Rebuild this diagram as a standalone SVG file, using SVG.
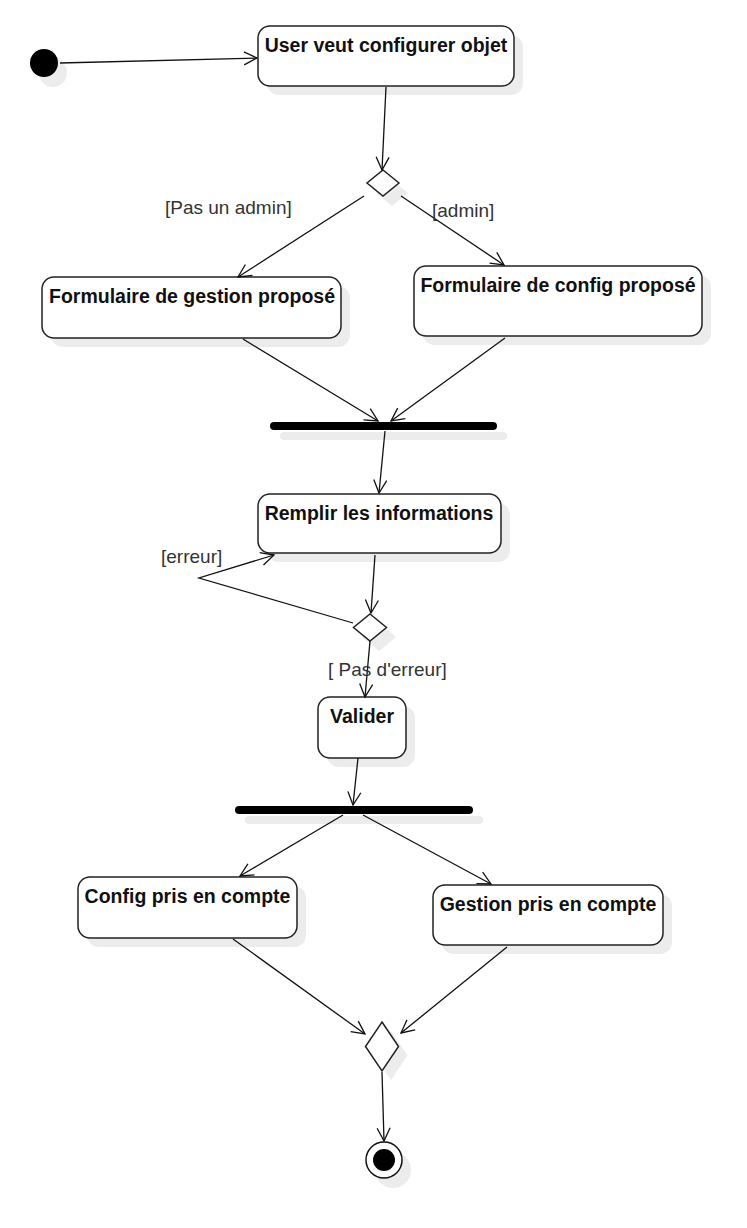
<svg xmlns="http://www.w3.org/2000/svg" width="747" height="1228" viewBox="0 0 747 1228">
<style>
.sh{fill:#ececec;stroke:none}
.nd{fill:#fff;stroke:#222;stroke-width:1.5}
.t{font-family:"Liberation Sans",Arial,sans-serif;font-size:19.5px;font-weight:bold;fill:#111;text-anchor:middle}
.lb{font-family:"Liberation Sans",Arial,sans-serif;font-size:19px;fill:#333}
.c{fill:none;stroke:#111;stroke-width:1.3}
</style>
<defs>
<marker id="arr" viewBox="-15 -8 17 16" refX="0" refY="0" markerWidth="17" markerHeight="16" orient="auto" markerUnits="userSpaceOnUse">
<path d="M-13,-6.5 L0,0 L-13,6.5" fill="none" stroke="#111" stroke-width="1.3"/>
</marker>
</defs>
<rect width="747" height="1228" fill="#fff"/>

<g id="initial">
<circle class="sh" cx="53" cy="73" r="14"/>
<circle cx="44" cy="63" r="14" fill="#000"/>
</g>

<g id="n1">
<rect class="sh" x="267" y="35" width="256" height="60" rx="12"/>
<rect class="nd" x="258" y="26" width="256" height="60" rx="12"/>
<text class="t" x="386" y="52">User veut configurer objet</text>
</g>

<g id="d1">
<polygon class="sh" points="392,180 408,193 392,206 376,193"/>
<polygon class="nd" points="383,170 399,183 383,196 367,183" stroke="#111" stroke-width="1.3"/>
</g>

<g id="n2">
<rect class="sh" x="51" y="286" width="299" height="61" rx="12"/>
<rect class="nd" x="42" y="277" width="299" height="61" rx="12"/>
<text class="t" x="192" y="303">Formulaire de gestion proposé</text>
</g>

<g id="n3">
<rect class="sh" x="423" y="275" width="288" height="70" rx="12"/>
<rect class="nd" x="414" y="266" width="288" height="70" rx="12"/>
<text class="t" x="558" y="292">Formulaire de config proposé</text>
</g>

<g id="bar1">
<rect class="sh" x="280" y="432" width="227" height="8" rx="4"/>
<rect x="270" y="422" width="227" height="8" rx="4" fill="#000"/>
</g>

<g id="n4">
<rect class="sh" x="267" y="503" width="243" height="59" rx="12"/>
<rect class="nd" x="258" y="494" width="243" height="59" rx="12"/>
<text class="t" x="379" y="520">Remplir les informations</text>
</g>

<g id="d2">
<polygon class="sh" points="379,623 396,637 379,651 362,637"/>
<polygon class="nd" points="370,614 386.5,627.5 370,641 353.5,627.5" stroke="#111" stroke-width="1.3"/>
</g>

<g id="n5">
<rect class="sh" x="327" y="706" width="88" height="61" rx="12"/>
<rect class="nd" x="318" y="697" width="88" height="61" rx="12"/>
<text class="t" x="362" y="723">Valider</text>
</g>

<g id="bar2">
<rect class="sh" x="245" y="816" width="238" height="8" rx="4"/>
<rect x="235" y="806" width="238" height="8" rx="4" fill="#000"/>
</g>

<g id="n6">
<rect class="sh" x="87" y="886" width="219" height="61" rx="12"/>
<rect class="nd" x="78" y="877" width="219" height="61" rx="12"/>
<text class="t" x="187.5" y="903">Config pris en compte</text>
</g>

<g id="n7">
<rect class="sh" x="442" y="894" width="230" height="60" rx="12"/>
<rect class="nd" x="433" y="885" width="230" height="60" rx="12"/>
<text class="t" x="548" y="911">Gestion pris en compte</text>
</g>

<g id="d3">
<polygon class="sh" points="391,1031 407.5,1055.5 391,1080 374.5,1055.5"/>
<polygon class="nd" points="382,1022 398.5,1046.5 382,1071 365.5,1046.5" stroke="#111" stroke-width="1.3"/>
</g>

<g id="final">
<circle class="sh" cx="393" cy="1170" r="18"/>
<circle cx="384" cy="1160" r="18" fill="#fff" stroke="#111" stroke-width="1.5"/>
<circle cx="384" cy="1160" r="11" fill="#000"/>
</g>

<g id="connectors">
<line class="c" x1="60" y1="63" x2="257" y2="58" marker-end="url(#arr)"/>
<line class="c" x1="386" y1="87" x2="382" y2="170" marker-end="url(#arr)"/>
<line class="c" x1="364" y1="196" x2="238" y2="277" marker-end="url(#arr)"/>
<line class="c" x1="401" y1="196" x2="504" y2="265" marker-end="url(#arr)"/>
<line class="c" x1="243" y1="339" x2="378" y2="421" marker-end="url(#arr)"/>
<line class="c" x1="505" y1="338" x2="391" y2="421" marker-end="url(#arr)"/>
<line class="c" x1="385" y1="431" x2="379" y2="493" marker-end="url(#arr)"/>
<line class="c" x1="375" y1="555" x2="371" y2="613" marker-end="url(#arr)"/>
<polyline class="c" points="353,623 199,578 274,555" marker-end="url(#arr)"/>
<line class="c" x1="370" y1="641" x2="365" y2="697" marker-end="url(#arr)"/>
<line class="c" x1="358" y1="758" x2="353" y2="805" marker-end="url(#arr)"/>
<line class="c" x1="343" y1="815" x2="240" y2="876" marker-end="url(#arr)"/>
<line class="c" x1="363" y1="815" x2="491" y2="884" marker-end="url(#arr)"/>
<line class="c" x1="233" y1="939" x2="365" y2="1034" marker-end="url(#arr)"/>
<line class="c" x1="507" y1="947" x2="401" y2="1033" marker-end="url(#arr)"/>
<line class="c" x1="382" y1="1072" x2="384" y2="1141" marker-end="url(#arr)"/>
<text class="lb" x="165" y="214">[Pas un admin]</text>
<text class="lb" x="432" y="217">[admin]</text>
<text class="lb" x="161" y="563">[erreur]</text>
<text class="lb" x="328" y="676">[ Pas d'erreur]</text>
</g>
</svg>
